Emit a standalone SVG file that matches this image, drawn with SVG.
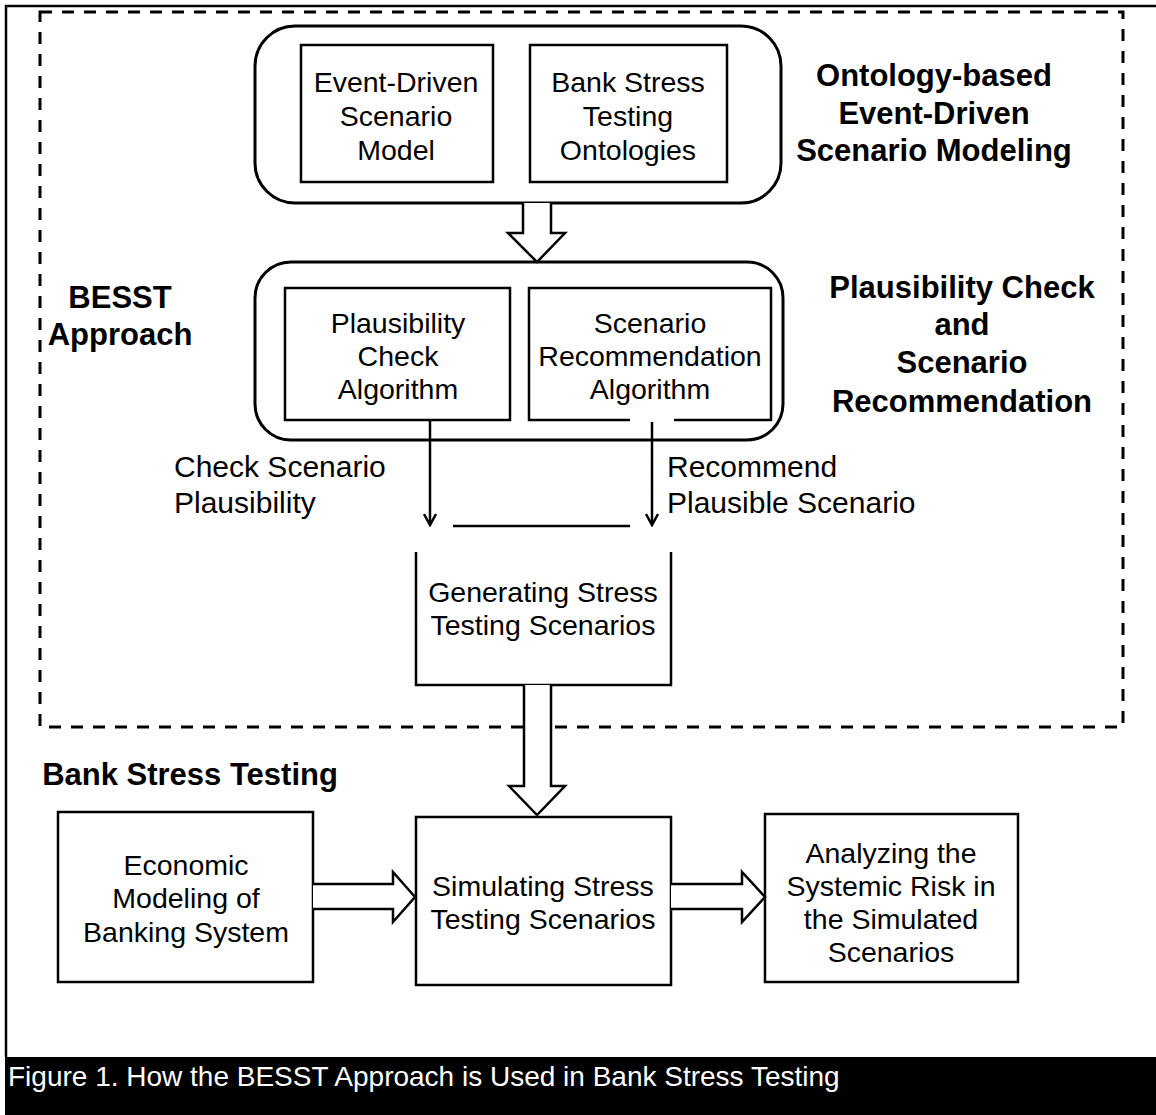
<svg xmlns="http://www.w3.org/2000/svg" width="1156" height="1115" viewBox="0 0 1156 1115">
  <style>
    .box { fill: #fff; stroke: #000; stroke-width: 2.5; }
    .rbox { fill: #fff; stroke: #000; stroke-width: 3; }
    .line { fill: none; stroke: #000; stroke-width: 2.5; }
    .hollow { fill: #fff; stroke: #000; stroke-width: 2.5; stroke-linejoin: miter; }
    .t { font-family: "Liberation Sans", Arial, sans-serif; font-size: 28.5px; fill: #000; text-anchor: middle; }
    .lbl { font-family: "Liberation Sans", Arial, sans-serif; font-size: 30px; fill: #000; }
    .h { font-family: "Liberation Sans", Arial, sans-serif; font-size: 31px; font-weight: bold; fill: #000; text-anchor: middle; }
    .cap { font-family: "Liberation Sans", Arial, sans-serif; font-size: 28px; fill: #fff; }
  </style>
  <defs>
    <marker id="chevron" viewBox="0 0 14 14" refX="12" refY="7" markerWidth="14" markerHeight="14" markerUnits="userSpaceOnUse" orient="auto">
      <path d="M1,1 L12,7 L1,13" fill="none" stroke="#000" stroke-width="2.5"/>
    </marker>
  </defs>

  <rect width="1156" height="1115" fill="#fff"/>

  <!-- figure frame and caption band -->
  <g id="frame">
    <path d="M6,1057 V6 H1156" fill="none" stroke="#000" stroke-width="2.5"/>
    <rect x="5" y="1057" width="1151" height="58" fill="#000"/>
    <text class="cap" x="8" y="1086">Figure 1. How the BESST Approach is Used in Bank Stress Testing</text>
  </g>

  <!-- BESST approach boundary -->
  <g id="besst-boundary">
    <rect x="40" y="12" width="1083" height="715" fill="none" stroke="#000" stroke-width="3" stroke-dasharray="12 10"/>
    <text class="h" x="120" y="308">BESST</text>
    <text class="h" x="120" y="345">Approach</text>
  </g>

  <!-- ontology-based modeling stage -->
  <g id="modeling">
    <rect class="rbox" x="255" y="26" width="526" height="177" rx="40"/>
    <g id="event-model">
      <rect class="box" x="301" y="45" width="192" height="137"/>
      <text class="t" x="396" y="92">Event-Driven</text>
      <text class="t" x="396" y="126">Scenario</text>
      <text class="t" x="396" y="160">Model</text>
    </g>
    <g id="ontologies">
      <rect class="box" x="530" y="45" width="197" height="137"/>
      <text class="t" x="628" y="92">Bank Stress</text>
      <text class="t" x="628" y="126">Testing</text>
      <text class="t" x="628" y="160">Ontologies</text>
    </g>
    <text class="h" x="934" y="86">Ontology-based</text>
    <text class="h" x="934" y="124">Event-Driven</text>
    <text class="h" x="934" y="161">Scenario Modeling</text>
  </g>

  <!-- plausibility / recommendation stage -->
  <g id="plausibility">
    <rect class="rbox" x="255" y="262" width="528" height="178" rx="36"/>
    <g id="check-algorithm">
      <rect class="box" x="285" y="288" width="225" height="132"/>
      <text class="t" x="398" y="333">Plausibility</text>
      <text class="t" x="398" y="366">Check</text>
      <text class="t" x="398" y="399">Algorithm</text>
    </g>
    <g id="recommend-algorithm">
      <path class="box" d="M630,420 H529 V288 H771 V420 H674"/>
      <text class="t" x="650" y="333">Scenario</text>
      <text class="t" x="650" y="366">Recommendation</text>
      <text class="t" x="650" y="399">Algorithm</text>
    </g>
    <text class="h" x="962" y="298">Plausibility Check</text>
    <text class="h" x="962" y="335">and</text>
    <text class="h" x="962" y="373">Scenario</text>
    <text class="h" x="962" y="412">Recommendation</text>
  </g>

  <!-- scenario generation -->
  <g id="generating">
    <path class="line" d="M416,552 V685 H671 V552"/>
    <text class="t" x="543" y="602">Generating Stress</text>
    <text class="t" x="543" y="635">Testing Scenarios</text>
  </g>

  <!-- bank stress testing stage -->
  <g id="bank-stress-testing">
    <text class="h" x="190" y="785">Bank Stress Testing</text>
  </g>
  <g id="economic-model">
    <rect class="box" x="58" y="812" width="255" height="170"/>
    <text class="t" x="186" y="875">Economic</text>
    <text class="t" x="186" y="908">Modeling of</text>
    <text class="t" x="186" y="942">Banking System</text>
  </g>
  <g id="simulating">
    <rect class="box" x="416" y="817" width="255" height="168"/>
    <text class="t" x="543" y="896">Simulating Stress</text>
    <text class="t" x="543" y="929">Testing Scenarios</text>
  </g>
  <g id="systemic-risk">
    <rect class="box" x="765" y="814" width="253" height="168"/>
    <text class="t" x="891" y="863">Analyzing the</text>
    <text class="t" x="891" y="896">Systemic Risk in</text>
    <text class="t" x="891" y="929">the Simulated</text>
    <text class="t" x="891" y="962">Scenarios</text>
  </g>

  <!-- connectors -->
  <g id="connectors">
    <!-- modeling -> plausibility -->
    <path class="hollow" d="M523,203 V233 H508 L537,262 L565,233 H551 V203"/>
    <!-- algorithm outputs -->
    <line class="line" x1="430" y1="420" x2="430" y2="525" marker-end="url(#chevron)"/>
    <line class="line" x1="652" y1="422" x2="652" y2="525" marker-end="url(#chevron)"/>
    <line class="line" x1="453" y1="526" x2="630" y2="526"/>
    <text class="lbl" x="174" y="477">Check Scenario</text>
    <text class="lbl" x="174" y="513">Plausibility</text>
    <text class="lbl" x="667" y="477">Recommend</text>
    <text class="lbl" x="667" y="513">Plausible Scenario</text>
    <!-- generating -> simulating -->
    <path class="hollow" d="M524,685 V786 H509 L537,815 L565,786 H551 V685"/>
    <!-- economic model -> simulating -->
    <path class="hollow" d="M313,884 H393 V872 L415,897 L393,922 V909 H313"/>
    <!-- simulating -> systemic risk -->
    <path class="hollow" d="M671,884 H742 V872 L765,897 L742,922 V909 H671"/>
  </g>
</svg>
